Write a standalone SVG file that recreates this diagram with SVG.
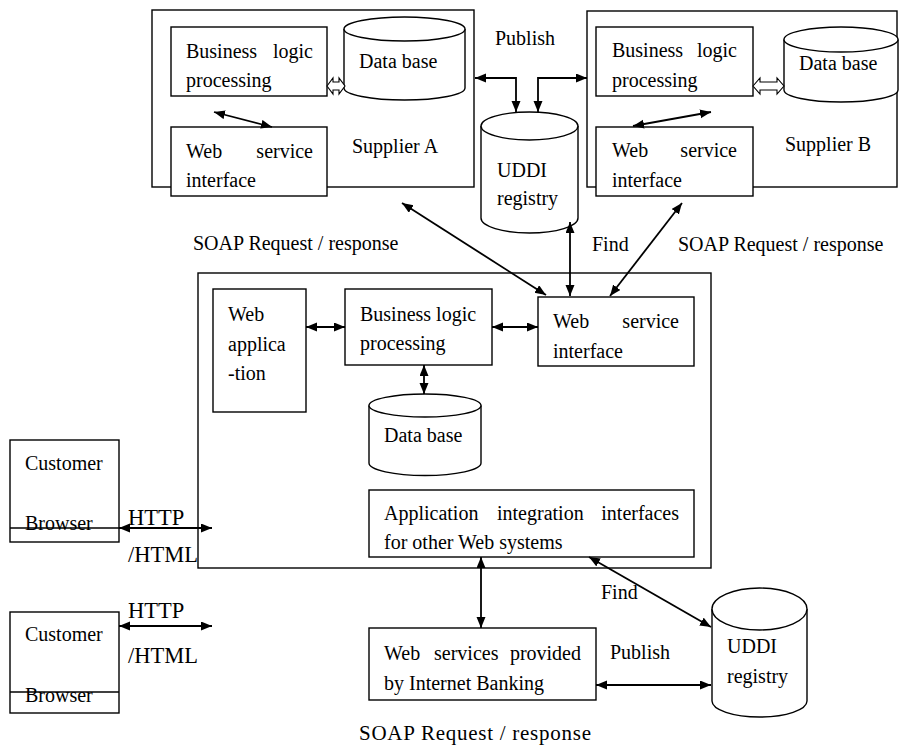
<svg xmlns="http://www.w3.org/2000/svg" width="900" height="745" viewBox="0 0 900 745">
  <style>
    text { font-family: "Liberation Serif", "Times New Roman", serif; font-size: 20px; fill: #000; }
    .big { font-size: 22.5px; }
    .cap { font-family: "Liberation Serif", serif; font-size: 21px; }
    .box { fill: #fff; stroke: #000; stroke-width: 1.4; }
    .frame { fill: none; stroke: #000; stroke-width: 1.4; }
    .db { fill: #fff; stroke: #000; stroke-width: 1.4; }
    .hollow { fill: #fff; stroke: #000; stroke-width: 1.1; }
    .link { fill: none; stroke: #000; stroke-width: 1.8; marker-start: url(#head); marker-end: url(#head); }
  </style>
  <defs>
    <marker id="head" markerUnits="userSpaceOnUse" markerWidth="12" markerHeight="10" refX="11" refY="4.5" orient="auto-start-reverse">
      <path d="M0,0 L11,4.5 L0,9 z" fill="#000"/>
    </marker>
  </defs>
  <rect width="900" height="745" fill="#fff"/>

  <!-- Supplier A -->
  <g id="supplier-a">
    <rect class="frame" x="152" y="10" width="322" height="177"/>
    <text x="352" y="153">Supplier A</text>
  </g>
  <g id="supplier-a-logic">
    <rect class="box" x="171" y="27" width="156" height="69"/>
    <text x="186" y="58">Business</text>
    <text x="313" y="58" text-anchor="end">logic</text>
    <text x="186" y="87">processing</text>
  </g>
  <g id="supplier-a-db">
    <path class="db" d="M344,29 V88 A60.5,12 0 0 0 465,88 V29"/>
    <ellipse class="db" cx="404.5" cy="29" rx="60.5" ry="12"/>
    <text x="359" y="68">Data base</text>
  </g>
  <g id="supplier-a-ws">
    <rect class="box" x="171" y="127" width="156" height="69"/>
    <text x="186" y="158">Web</text>
    <text x="313" y="158" text-anchor="end">service</text>
    <text x="186" y="187">interface</text>
  </g>

  <!-- Supplier B -->
  <g id="supplier-b">
    <rect class="frame" x="587" y="11" width="310" height="176"/>
    <text x="785" y="151">Supplier B</text>
  </g>
  <g id="supplier-b-logic">
    <rect class="box" x="596" y="27" width="157" height="69"/>
    <text x="612" y="57">Business</text>
    <text x="737" y="57" text-anchor="end">logic</text>
    <text x="612" y="87">processing</text>
  </g>
  <g id="supplier-b-db">
    <path class="db" d="M784,39.5 V90 A57,12 0 0 0 898,90 V39.5"/>
    <ellipse class="db" cx="841" cy="39.5" rx="57" ry="12.5"/>
    <text x="799" y="70">Data base</text>
  </g>
  <g id="supplier-b-ws">
    <rect class="box" x="596" y="127" width="157" height="69"/>
    <text x="612" y="157">Web</text>
    <text x="737" y="157" text-anchor="end">service</text>
    <text x="612" y="187">interface</text>
  </g>

  <!-- UDDI registry (top) -->
  <g id="uddi-top">
    <path class="db" d="M481,126 V218 A48.5,15 0 0 0 578,218 V126"/>
    <ellipse class="db" cx="529.5" cy="126" rx="48.5" ry="14"/>
    <text x="497" y="177">UDDI</text>
    <text x="497" y="205">registry</text>
  </g>

  <!-- Internet banking system -->
  <g id="bank">
    <rect class="frame" x="198" y="273" width="513" height="295"/>
  </g>
  <g id="web-app">
    <rect class="box" x="213" y="289" width="93" height="123"/>
    <text x="228" y="321">Web</text>
    <text x="228" y="351">applica</text>
    <text x="228" y="380">-tion</text>
  </g>
  <g id="bank-logic">
    <rect class="box" x="345" y="289" width="147" height="76"/>
    <text x="360" y="321">Business logic</text>
    <text x="360" y="350">processing</text>
  </g>
  <g id="bank-ws">
    <rect class="box" x="538" y="297" width="156" height="69"/>
    <text x="553" y="328">Web</text>
    <text x="679" y="328" text-anchor="end">service</text>
    <text x="553" y="358">interface</text>
  </g>
  <g id="bank-db">
    <path class="db" d="M369,405.5 V463 A56,12.5 0 0 0 481,463 V405.5"/>
    <ellipse class="db" cx="425" cy="405.5" rx="56" ry="11.5"/>
    <text x="384" y="442">Data base</text>
  </g>
  <g id="integration">
    <rect class="box" x="369" y="490" width="325" height="67"/>
    <text x="384" y="520">Application</text>
    <text x="497" y="520">integration</text>
    <text x="679" y="520" text-anchor="end">interfaces</text>
    <text x="384" y="549">for other Web systems</text>
  </g>

  <!-- Published services and registry (bottom) -->
  <g id="bank-services">
    <rect class="box" x="369" y="628" width="227" height="72"/>
    <text x="384" y="660">Web</text>
    <text x="434" y="660">services</text>
    <text x="581" y="660" text-anchor="end">provided</text>
    <text x="384" y="690">by Internet Banking</text>
  </g>
  <g id="uddi-bottom">
    <path class="db" d="M712,609 V701 A47.5,16 0 0 0 807,701 V609"/>
    <ellipse class="db" cx="759.5" cy="609" rx="47.5" ry="21"/>
    <text x="727" y="653">UDDI</text>
    <text x="727" y="683">registry</text>
  </g>

  <!-- Customer browsers -->
  <g id="browser-1">
    <rect class="box" x="10" y="440" width="109" height="102"/>
    <text x="25" y="470">Customer</text>
    <text x="25" y="530">Browser</text>
    <line x1="10" y1="528" x2="119" y2="528" stroke="#000" stroke-width="1.4"/>
  </g>
  <g id="browser-2">
    <rect class="box" x="10" y="612" width="109" height="101"/>
    <text x="25" y="641">Customer</text>
    <text x="25" y="702">Browser</text>
    <line x1="10" y1="692" x2="119" y2="692" stroke="#000" stroke-width="1.4"/>
  </g>

  <!-- Connectors -->
  <g id="connectors">
    <polygon class="hollow" points="327,86 333,78 333,82 339,82 339,78 345,86 339,94 339,90 333,90 333,94"/>
    <polygon class="hollow" points="753,86 760,78 760,82 777,82 777,78 784,86 777,94 777,90 760,90 760,94"/>
    <path class="link" d="M214,112 L272,127"/>
    <path class="link" d="M633,126 L711,112"/>
    <path class="link" d="M475,78 H516 V112"/>
    <path class="link" d="M538,112 V78 H587"/>
    <path class="link" d="M402,203 L546,295"/>
    <path class="link" d="M570,222 V296"/>
    <path class="link" d="M682,203 L610,296"/>
    <path class="link" d="M306,327 H345"/>
    <path class="link" d="M492,327 H538"/>
    <path class="link" d="M424,365 V394"/>
    <path class="link" d="M481,557 V628"/>
    <path class="link" d="M589,557 L711,627"/>
    <path class="link" d="M596,685 H711"/>
    <path class="link" d="M119,528 H212"/>
    <path class="link" d="M119,626 H212"/>
  </g>

  <!-- Connector labels -->
  <g id="labels">
    <text x="495" y="45">Publish</text>
    <text x="193" y="250">SOAP Request / response</text>
    <text x="592" y="251">Find</text>
    <text x="678" y="251">SOAP Request / response</text>
    <text class="big" x="128" y="525">HTTP</text>
    <text class="big" x="128" y="562">/HTML</text>
    <text class="big" x="128" y="618">HTTP</text>
    <text class="big" x="128" y="663">/HTML</text>
    <text x="601" y="599">Find</text>
    <text x="610" y="659">Publish</text>
    <text class="cap" x="359" y="740" textLength="232" lengthAdjust="spacing">SOAP Request / response</text>
  </g>
</svg>
